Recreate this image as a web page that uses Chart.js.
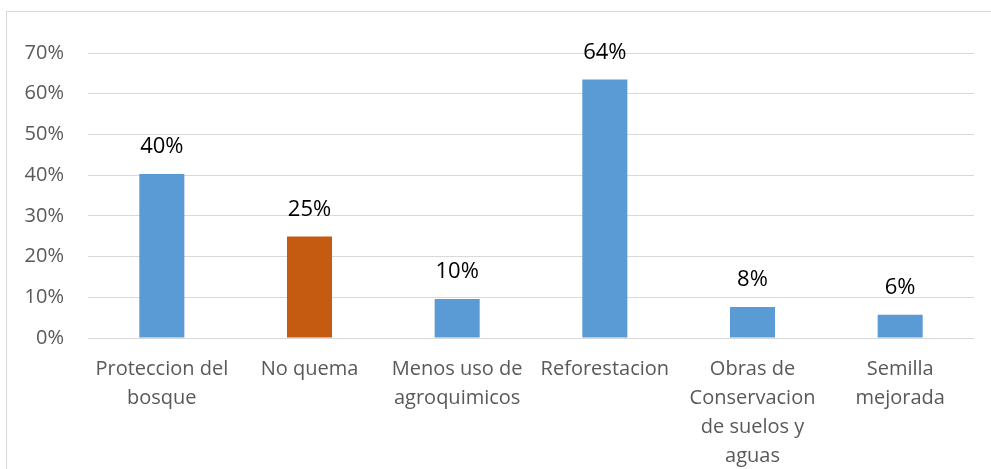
<!DOCTYPE html>
<html>
<head>
<meta charset="utf-8">
<script src="https://cdn.jsdelivr.net/npm/chart.js@4/dist/chart.umd.min.js"></script>
<style>
html,body{margin:0;padding:0;background:#fff;}
#wrap{position:absolute;left:0;top:0;width:991px;height:469px;}
</style>
</head>
<body>
<div id="wrap"><canvas id="c" width="991" height="469"></canvas></div>
<script>
const categories = [
  ["Proteccion del", "bosque"],
  ["No quema"],
  ["Menos uso de", "agroquimicos"],
  ["Reforestacion"],
  ["Obras de", "Conservacion", "de suelos y", "aguas"],
  ["Semilla", "mejorada"]
];
const values = [0.403, 0.249, 0.096, 0.635, 0.076, 0.057];
const dataLabels = ["40%", "25%", "10%", "64%", "8%", "6%"];
const barColors = ["#5B9BD5", "#C55A11", "#5B9BD5", "#5B9BD5", "#5B9BD5", "#5B9BD5"];
const yTicks = [0, 0.1, 0.2, 0.3, 0.4, 0.5, 0.6, 0.7];

const FONT = "'Open Sans', 'Liberation Sans', sans-serif";

const frame = {
  id: 'frame',
  beforeDraw(chart) {
    const ctx = chart.ctx;
    ctx.save();
    ctx.fillStyle = '#fff';
    ctx.fillRect(0, 0, chart.width, chart.height);
    ctx.strokeStyle = '#d9d9d9';
    ctx.lineWidth = 1;
    ctx.strokeRect(6.5, 11.5, 990, 480);
    ctx.restore();
  }
};

const labelsPlugin = {
  id: 'barLabels',
  afterDatasetsDraw(chart) {
    const ctx = chart.ctx;
    const meta = chart.getDatasetMeta(0);
    ctx.save();
    ctx.fillStyle = '#000';
    ctx.font = "22px " + FONT;
    ctx.textAlign = 'center';
    ctx.textBaseline = 'middle';
    meta.data.forEach((bar, i) => {
      ctx.fillText(dataLabels[i], bar.x, bar.y - 27);
    });
    ctx.restore();
  }
};

new Chart(document.getElementById('c'), {
  type: 'bar',
  data: {
    labels: categories,
    datasets: [{
      data: values,
      backgroundColor: barColors,
      borderWidth: 0,
      barPercentage: 0.305,
      categoryPercentage: 1.0
    }]
  },
  options: {
    responsive: false,
    animation: false,
    layout: { padding: { left: 0, top: 53, right: 17, bottom: 0 } },
    plugins: { legend: { display: false }, tooltip: { enabled: false } },
    scales: {
      x: {
        grid: { display: false, drawTicks: false },
        border: { display: false },
        ticks: {
          color: '#595959',
          font: { family: FONT, size: 20, lineHeight: 1.45 },
          padding: 17,
          maxRotation: 0,
          autoSkip: false
        },
        afterFit(scale) { scale.height = 469 - 338; }
      },
      y: {
        min: 0,
        max: 0.7,
        afterBuildTicks(scale) { scale.ticks = yTicks.map(v => ({ value: v })); },
        grid: { color: '#d9d9d9', lineWidth: 1, drawTicks: false },
        border: { display: false },
        ticks: {
          color: '#595959',
          font: { family: FONT, size: 20 },
          padding: 24,
          callback: v => Math.round(v * 100) + '%'
        },
        afterFit(scale) { scale.width = 88; }
      }
    }
  },
  plugins: [frame, labelsPlugin]
});
</script>
</body>
</html>
